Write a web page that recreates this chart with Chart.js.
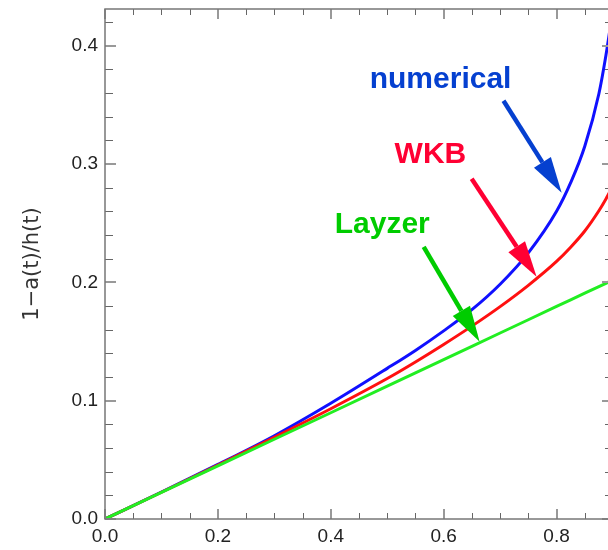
<!DOCTYPE html>
<html>
<head>
<meta charset="utf-8">
<script src="https://cdn.jsdelivr.net/npm/chart.js@4.4.0/dist/chart.umd.min.js"></script>
<style>
    html, body { margin: 0; padding: 0; background: #fff; overflow: hidden; }
    #contenedor { width: 630px; height: 550px; }
</style>
</head>
<body>
<div id="contenedor"><canvas id="grafico" width="630" height="550"></canvas></div>
<script>
// valores
var tiempos = [0, 0.1, 0.2, 0.3, 0.4, 0.5, 0.55, 0.6, 0.65, 0.7, 0.75, 0.8, 0.825, 0.85, 0.875, 0.8875, 0.9];
var numerico = [0, 0.0228, 0.0461, 0.0704, 0.0978, 0.1273, 0.1425, 0.1590, 0.1769, 0.1984, 0.2249, 0.2600, 0.2842, 0.3150, 0.3594, 0.3920, 0.4310];
var wkb = [0, 0.0226, 0.0456, 0.0691, 0.0932, 0.1187, 0.1327, 0.1475, 0.1630, 0.1795, 0.1975, 0.2177, 0.2297, 0.2434, 0.2605, 0.2705, 0.2815];
var layzer = [0, 0.0225, 0.0449, 0.0674, 0.0898, 0.1123, 0.1235, 0.1347, 0.1459, 0.1572, 0.1684, 0.1796, 0.1852, 0.1908, 0.1964, 0.1992, 0.2021];

var ticksX = [0, 0.2, 0.4, 0.6, 0.8];
var ticksY = [0, 0.1, 0.2, 0.3, 0.4];

var fuenteEjes = "'Liberation Sans', Arial, Helvetica, sans-serif";

// rotulos con flecha (en unidades de datos)
var etiquetas = [
    { texto: 'numerical', color: '#0540d0', x: 0.469, y: 0.3645, desde: [0.706, 0.3535], hasta: [0.809, 0.2757] },
    { texto: 'WKB', color: '#ff0033', x: 0.513, y: 0.301, desde: [0.6496, 0.2875], hasta: [0.7646, 0.2047] },
    { texto: 'Layzer', color: '#00cc00', x: 0.407, y: 0.2419, desde: [0.5646, 0.230], hasta: [0.6637, 0.1497] }
];

function armarPuntos(valores) {
    var puntos = [];
    for (var i = 0; i < tiempos.length; i++) {
        puntos.push({ x: tiempos[i], y: valores[i] });
    }
    return puntos;
}

function dibujarFlecha(ctx, x1, y1, x2, y2, color) {
    var ang = Math.atan2(y2 - y1, x2 - x1);
    var largo = 36, ancho = 10;
    var bx = x2 - largo * Math.cos(ang), by = y2 - largo * Math.sin(ang);
    ctx.strokeStyle = color;
    ctx.fillStyle = color;
    ctx.lineWidth = 4.5;
    ctx.lineCap = 'butt';
    ctx.beginPath();
    ctx.moveTo(x1, y1);
    ctx.lineTo(bx, by);
    ctx.stroke();
    ctx.beginPath();
    ctx.moveTo(x2, y2);
    ctx.lineTo(bx + ancho * Math.sin(ang), by - ancho * Math.cos(ang));
    ctx.lineTo(bx - ancho * Math.sin(ang), by + ancho * Math.cos(ang));
    ctx.closePath();
    ctx.fill();
}

var marcoPlugin = {
    id: 'marco',
    afterDatasetsDraw: function (chart) {
        var ctx = chart.ctx, area = chart.chartArea;
        var sx = chart.scales.x, sy = chart.scales.y;
        ctx.save();

        // marcas menores y mayores hacia adentro
        var v, p;
        ctx.strokeStyle = '#666';
        ctx.lineWidth = 1;
        for (v = 0; v <= 0.9001; v += 0.05) {
            p = Math.round(sx.getPixelForValue(v)) + 0.5;
            ctx.beginPath();
            ctx.moveTo(p, area.bottom); ctx.lineTo(p, area.bottom - 6);
            ctx.moveTo(p, area.top); ctx.lineTo(p, area.top + 6);
            ctx.stroke();
        }
        for (v = 0; v <= 0.431; v += 0.02) {
            p = Math.round(sy.getPixelForValue(v)) + 0.5;
            ctx.beginPath();
            ctx.moveTo(area.left, p); ctx.lineTo(area.left + 8, p);
            ctx.moveTo(area.right, p); ctx.lineTo(area.right - 8, p);
            ctx.stroke();
        }
        ctx.strokeStyle = '#999';
        ctx.lineWidth = 2;
        ticksX.forEach(function (t) {
            p = Math.round(sx.getPixelForValue(t));
            ctx.beginPath();
            ctx.moveTo(p, area.bottom); ctx.lineTo(p, area.bottom - 10);
            ctx.moveTo(p, area.top); ctx.lineTo(p, area.top + 10);
            ctx.stroke();
        });
        ticksY.forEach(function (t) {
            p = Math.round(sy.getPixelForValue(t));
            ctx.beginPath();
            ctx.moveTo(area.left, p); ctx.lineTo(area.left + 11, p);
            ctx.moveTo(area.right, p); ctx.lineTo(area.right - 11, p);
            ctx.stroke();
        });

        ctx.strokeStyle = '#777';
        ctx.lineWidth = 1.5;
        ctx.strokeRect(area.left, area.top, area.right - area.left, area.bottom - area.top);

        // rotulos
        etiquetas.forEach(function (e) {
            ctx.font = "bold 30px " + fuenteEjes;
            ctx.fillStyle = e.color;
            ctx.textBaseline = 'alphabetic';
            ctx.textAlign = 'left';
            ctx.fillText(e.texto, sx.getPixelForValue(e.x), sy.getPixelForValue(e.y));
            dibujarFlecha(ctx,
                sx.getPixelForValue(e.desde[0]), sy.getPixelForValue(e.desde[1]),
                sx.getPixelForValue(e.hasta[0]), sy.getPixelForValue(e.hasta[1]), e.color);
        });
        ctx.restore();
    }
};

var grafico = new Chart(document.getElementById('grafico'), {
    type: 'line',
    data: {
        datasets: [{
            label: 'Layzer',
            data: armarPuntos(layzer),
            borderColor: '#22ee22',
            borderWidth: 3,
            pointRadius: 0,
            fill: false
        }, {
            label: 'WKB',
            data: armarPuntos(wkb),
            borderColor: '#ff1010',
            borderWidth: 3,
            pointRadius: 0,
            fill: false,
            cubicInterpolationMode: 'monotone'
        }, {
            label: 'numerical',
            data: armarPuntos(numerico),
            borderColor: '#1010ff',
            borderWidth: 3,
            pointRadius: 0,
            fill: false,
            cubicInterpolationMode: 'monotone'
        }]
    },
    options: {
        responsive: false,
        animation: false,
        devicePixelRatio: 1,
        layout: { padding: { left: 0, top: 9, right: 17, bottom: 0 } },
        plugins: {
            legend: { display: false },
            tooltip: { enabled: false }
        },
        scales: {
            x: {
                type: 'linear',
                min: 0,
                max: 0.9,
                afterFit: function (s) {
                    s.height = 31;
                    s.paddingLeft = 0;
                    s.paddingRight = 0;
                },
                border: { display: false },
                grid: { display: false, drawTicks: false },
                ticks: {
                    stepSize: 0.2,
                    includeBounds: false,
                    autoSkip: false,
                    maxRotation: 0,
                    padding: 6,
                    color: '#222',
                    font: { family: fuenteEjes, size: 19 },
                    callback: function (v) { return Number(v).toFixed(1); }
                }
            },
            y: {
                type: 'linear',
                min: 0,
                max: 0.431,
                afterFit: function (s) {
                    s.width = 105;
                    s.paddingTop = 0;
                    s.paddingBottom = 0;
                },
                border: { display: false },
                grid: { display: false, drawTicks: false },
                ticks: {
                    stepSize: 0.1,
                    includeBounds: false,
                    padding: 7,
                    color: '#222',
                    font: { family: fuenteEjes, size: 19 },
                    callback: function (v) { return Number(v).toFixed(1); }
                },
                title: {
                    display: true,
                    text: '1\u2212a(t)/h(t)',
                    color: '#333',
                    padding: { top: 20, bottom: 0 },
                    font: { family: "'DejaVu Sans', sans-serif", size: 21 }
                }
            }
        }
    },
    plugins: [marcoPlugin]
});
</script>
</body>
</html>
